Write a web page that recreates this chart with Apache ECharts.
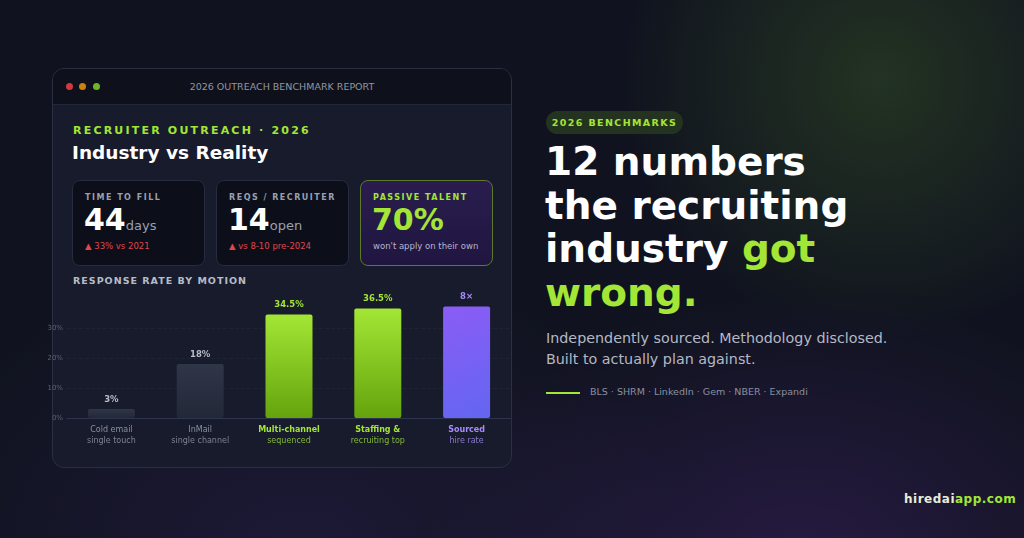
<!DOCTYPE html>
<html><head><meta charset="utf-8">
<script src="https://cdn.jsdelivr.net/npm/echarts@6/dist/echarts.min.js"></script>
<style>
*{margin:0;padding:0;box-sizing:border-box}
body{width:1024px;height:538px;overflow:hidden;font-family:"DejaVu Sans",sans-serif;
 background:radial-gradient(circle at 880px 80px,rgba(70,110,40,.35),transparent 260px),
 radial-gradient(ellipse at 800px 560px,rgba(80,40,130,.35),transparent 380px),
 radial-gradient(ellipse at 300px 560px,rgba(60,40,110,.3),transparent 400px),#10131f;position:relative}
.abs{position:absolute}
.card{left:52px;top:68px;width:460px;height:400px;border:1px solid #2a2f44;border-radius:12px;background:#171b2c;overflow:hidden}
.head{left:0;top:0;width:100%;height:36px;background:#0e111c;border-bottom:1px solid #22263a}
.dot{width:7px;height:7px;border-radius:50%;top:14px}
.stat{top:111px;width:133px;height:86px;border:1px solid #262b40;border-radius:8px;background:#0c0f1a}
.lab{left:12px;top:12px;font-size:8px;font-weight:bold;letter-spacing:1.5px;color:#9aa0b0}
.big{left:11px;top:21px;font-size:30px;font-weight:bold;color:#fff}
.big small{font-size:13px;font-weight:normal;color:#9aa0b0}
.sub{left:12px;top:60px;font-size:8.5px;color:#e0464a}
</style></head><body>
<div class="abs card">
 <div class="abs head">
  <div class="abs dot" style="left:13px;background:#d03a3a"></div>
  <div class="abs dot" style="left:26px;background:#c8820e"></div>
  <div class="abs dot" style="left:40px;background:#6fb52a"></div>
  <div class="abs" style="left:0;width:100%;top:12px;text-align:center;font-size:9.5px;color:#9096a6">2026 OUTREACH BENCHMARK REPORT</div>
 </div>
 <div class="abs" style="left:20px;top:55px;font-size:11px;font-weight:bold;letter-spacing:2.2px;color:#a3e635">RECRUITER OUTREACH · 2026</div>
 <div class="abs" style="left:19px;top:73px;font-size:18.5px;font-weight:bold;color:#fff">Industry vs Reality</div>
 <div class="abs stat" style="left:19px">
  <div class="abs lab">TIME TO FILL</div>
  <div class="abs big">44<small>days</small></div>
  <div class="abs sub">▲ 33% vs 2021</div>
 </div>
 <div class="abs stat" style="left:163px">
  <div class="abs lab">REQS / RECRUITER</div>
  <div class="abs big">14<small>open</small></div>
  <div class="abs sub">▲ vs 8-10 pre-2024</div>
 </div>
 <div class="abs stat" style="left:307px;border:1.5px solid #5c7a2a;background:linear-gradient(180deg,#2a1d4e,#1f1640)">
  <div class="abs lab" style="color:#a3e635">PASSIVE TALENT</div>
  <div class="abs big" style="color:#a3e635">70%</div>
  <div class="abs sub" style="color:#b8b4d0">won't apply on their own</div>
 </div>
 <div class="abs" style="left:20px;top:206px;font-size:9.5px;font-weight:bold;letter-spacing:1px;color:#b8bcc8">RESPONSE RATE BY MOTION</div>
</div>
<div id="main" class="abs" style="left:40px;top:290px;width:471px;height:160px"></div>

<div class="abs" style="left:546px;top:111px;width:137px;height:23px;border-radius:12px;background:#233320;color:#a3e635;font-size:9.5px;font-weight:bold;letter-spacing:1.4px;line-height:23px;text-align:center">2026 BENCHMARKS</div>
<div class="abs" style="left:545px;top:140px;font-size:39px;font-weight:bold;color:#fff;line-height:43.5px">12 numbers<br>the recruiting<br>industry <span style="color:#a3e635">got</span><br><span style="color:#a3e635">wrong.</span></div>
<div class="abs" style="left:546px;top:328px;font-size:14.3px;color:#b4b8c4;line-height:21px">Independently sourced. Methodology disclosed.<br>Built to actually plan against.</div>
<div class="abs" style="left:546px;top:392px;width:34px;height:2px;background:#a3e635"></div>
<div class="abs" style="left:590px;top:386px;font-size:9.5px;color:#8a8fa0">BLS · SHRM · LinkedIn · Gem · NBER · Expandi</div>
<div class="abs" style="left:904px;top:492px;font-size:12px;font-weight:bold;letter-spacing:.5px;color:#e8ecd8">hiredai<span style="color:#a3e635">app.com</span></div>

<script>
var categories = ['Cold email', 'InMail', 'Multi-channel', 'Staffing &', 'Sourced'];
var subLabels = ['single touch', 'single channel', 'sequenced', 'recruiting top', 'hire rate'];
var values = [3, 18, 34.5, 36.5, 37.2];
var valueLabels = ['3%', '18%', '34.5%', '36.5%', '8×'];
var yTicks = [0, 10, 20, 30];

var styles = ['dark', 'dark', 'green', 'green', 'purple'];
var fills = {
    dark: new echarts.graphic.LinearGradient(0, 0, 0, 1, [{offset: 0, color: '#2f3647'}, {offset: 1, color: '#222838'}]),
    green: new echarts.graphic.LinearGradient(0, 0, 0, 1, [{offset: 0, color: '#a3e635'}, {offset: 1, color: '#65a30d'}]),
    purple: new echarts.graphic.LinearGradient(0, 0, 1, 1, [{offset: 0, color: '#8b5cf6'}, {offset: 1, color: '#6366f1'}])
};
var labelColors = {dark: '#b8bcc8', green: '#a3e635', purple: '#a78bfa'};

var myChart = echarts.init(document.getElementById('main'));
var option = {
    animation: false,
    textStyle: {fontFamily: 'DejaVu Sans'},
    grid: {left: 27, right: 0, top: 8, bottom: 32},
    xAxis: {
        type: 'category',
        data: categories,
        axisTick: {show: false},
        axisLine: {lineStyle: {color: '#2e3450'}},
        axisLabel: {
            interval: 0, margin: 6,
            formatter: function (v, i) {
                var s = styles[i];
                return '{' + s + 'A|' + v + '}\n{' + s + 'B|' + subLabels[i] + '}';
            },
            rich: {
                darkA: {fontSize: 8, color: '#8a8fa0', lineHeight: 11},
                darkB: {fontSize: 8, color: '#7d8394', lineHeight: 11},
                greenA: {fontSize: 8, fontWeight: 'bold', color: '#a3e635', lineHeight: 11},
                greenB: {fontSize: 8, color: '#84b83a', lineHeight: 11},
                purpleA: {fontSize: 8, fontWeight: 'bold', color: '#a78bfa', lineHeight: 11},
                purpleB: {fontSize: 8, color: '#8b7ad0', lineHeight: 11}
            }
        }
    },
    yAxis: {
        type: 'value', min: 0, max: 40, interval: 10,
        axisLabel: {
            fontSize: 7, color: '#5c6274', margin: 4,
            formatter: function (v) { return yTicks.indexOf(v) >= 0 ? v + '%' : ''; }
        },
        splitLine: {lineStyle: {color: ['#1c2032', '#1e2234', '#1e2234', '#1e2234', 'transparent'], type: 'dashed'}}
    },
    series: [{
        type: 'bar',
        barWidth: 47,
        data: values.map(function (v, i) {
            var s = styles[i];
            return {
                value: v,
                itemStyle: {color: fills[s], borderRadius: 2},
                label: {show: true, position: 'top', distance: 5, formatter: valueLabels[i],
                    fontSize: 8.5, fontWeight: 'bold', color: labelColors[s]}
            };
        })
    }]
};
myChart.setOption(option);
</script>
</body></html>
